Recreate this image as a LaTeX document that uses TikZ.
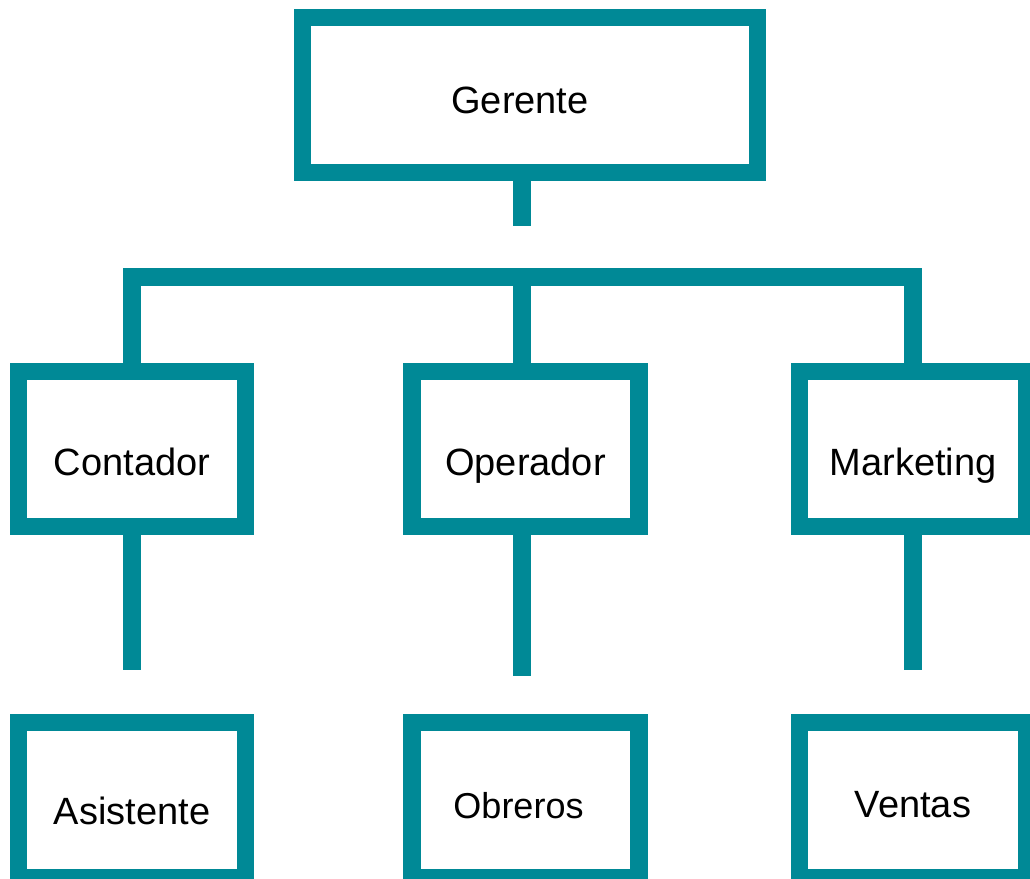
\documentclass[tikz,border=0pt]{standalone}
\usepackage{fontspec}
\setmainfont{Liberation Sans}
\usepackage{tikz}
\usetikzlibrary{positioning}
\definecolor{orgteal}{RGB}{0,137,150}
\tikzstyle{caja} = [draw=orgteal, line width=17.5pt, fill=white, inner sep=0pt, minimum width=227pt, minimum height=155pt, text depth=0pt, font=\fontsize{38}{44}\selectfont]
\tikzstyle{linea} = [draw=orgteal, line width=17.5pt]

\begin{document}
\begin{tikzpicture}[x=1pt, y=-1pt]
\useasboundingbox (0,0) rectangle (1030,878);
\clip (0,0) rectangle (1030,878);

% Gerente box
\node[caja, minimum width=455pt, text height=36pt] (ger) at (530,95) {\hspace*{-20pt}Gerente};

% Middle row
\node[caja, text height=52pt] (cont) at (132,449) {Contador};
\node[caja, text height=52pt] (oper) at (525.5,449) {Operador};
\node[caja, text height=52pt] (mark) at (913,449) {Marketing};

% Bottom row
\node[caja, text height=48pt] (asis) at (132,800) {Asistente};
\node[caja, text height=36pt, font=\fontsize{36}{42}\selectfont] (obre) at (525.5,800) {\hspace*{-14pt}Obreros};
\node[caja, text height=34pt] (vent) at (913,800) {Ventas};

% Lines from Gerente
\coordinate (gstem) at (522,226);
\coordinate (bar) at (522,277);
\draw[linea] (ger.south -| gstem) -- (gstem);
\draw[linea] (cont.north) |- (bar) -| (mark.north);
\draw[linea] (bar) -- (oper.north -| bar);

% Stems below middle row
\coordinate (cstem) at (132,670);
\coordinate (ostem) at (522,676);
\coordinate (mstem) at (913,670);
\draw[linea] (cont.south) -- (cstem);
\draw[linea] (oper.south -| ostem) -- (ostem);
\draw[linea] (mark.south) -- (mstem);
\end{tikzpicture}
\end{document}
